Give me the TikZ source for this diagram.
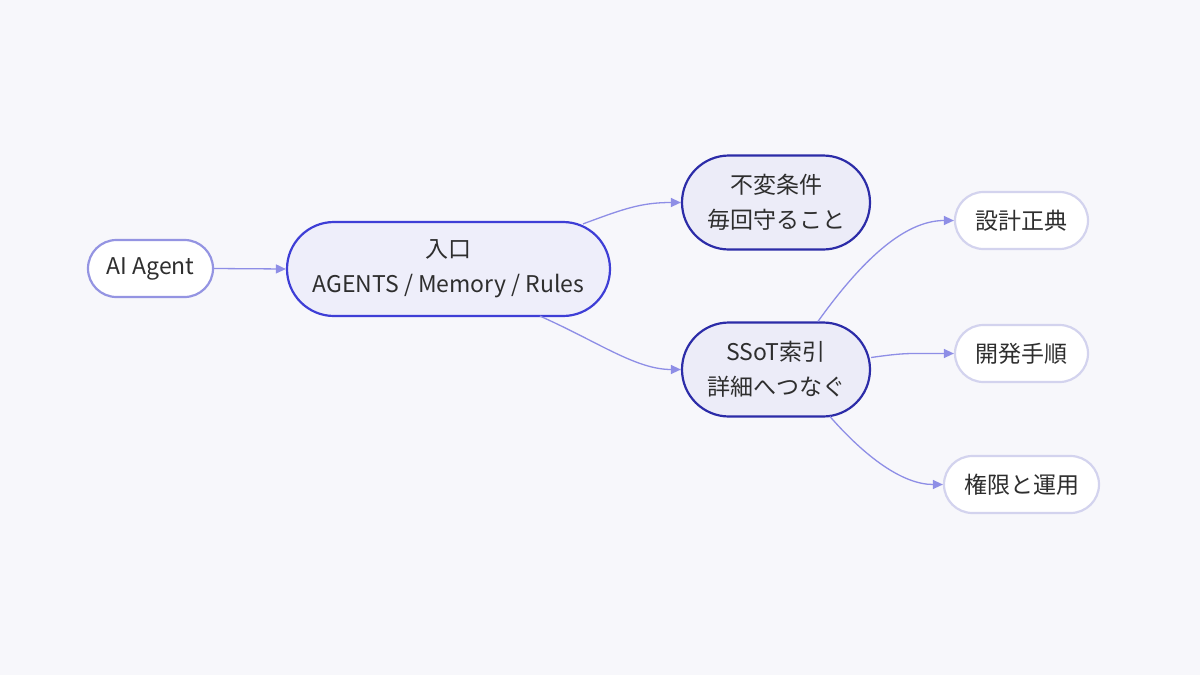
\documentclass[tikz,border=0pt]{standalone}
\usepackage{fontspec}
\setmainfont{Noto Sans CJK JP}
\usetikzlibrary{arrows.meta,calc}
\definecolor{bg}{HTML}{F7F7FB}
\definecolor{txt}{HTML}{2E2E2E}
\definecolor{edgec}{HTML}{8E8EE6}
\definecolor{agentb}{HTML}{9494E2}
\definecolor{entryb}{HTML}{3E3ED6}
\definecolor{entryf}{HTML}{EEEEFA}
\definecolor{midb}{HTML}{2C2CA8}
\definecolor{midf}{HTML}{ECECF8}
\definecolor{leafb}{HTML}{D3D3EE}
\tikzset{
  pill/.style={draw, line width=2.2pt, rounded corners=#1, align=center, text=txt,
    font=\fontsize{23}{35}\selectfont, inner sep=0pt},
  agentbox/.style={pill=28.5pt, draw=agentb, fill=white, minimum width=125pt, minimum height=57pt},
  entrybox/.style={pill=47pt, draw=entryb, fill=entryf, minimum width=323pt, minimum height=94pt},
  midbox/.style={pill=47pt, draw=midb, fill=midf, minimum width=188pt, minimum height=94pt},
  leafbox/.style={pill=28.5pt, draw=leafb, fill=white, minimum height=57pt},
  conn/.style={draw=edgec, line width=1.3pt, -{Triangle[length=10pt,width=9pt]}},
}
\begin{document}
\begin{tikzpicture}[x=1pt,y=-1pt]
\fill[bg] (0,0) rectangle (1200,675);
\useasboundingbox (0,0) rectangle (1200,675);

\node[agentbox] (agent) at (150.5,268.5) {AI Agent};
\node[entrybox] (entry) at (448.5,269) {入口\\AGENTS / Memory / Rules};
\node[midbox] (inv) at (776,202.5) {不変条件\\毎回守ること};
\node[midbox] (ssot) at (776,369.5) {SSoT索引\\詳細へつなぐ};
\node[leafbox, minimum width=133pt] (design) at (1021.5,220.5) {設計正典};
\node[leafbox, minimum width=133pt] (dev) at (1021.5,353.5) {開発手順};
\node[leafbox, minimum width=155pt] (perm) at (1021.5,484.5) {権限と運用};

\draw[conn] (agent.east) -- (entry.west);
\draw[conn] ($(entry.north)+(134.5,3)$) .. controls ($(entry.north)+(175,-12)$) and ($(inv.west)+(-40,0)$) .. (inv.west);
\draw[conn] ($(entry.south)+(91.5,-1)$) .. controls ($(entry.south)+(150,25)$) and ($(ssot.west)+(-45,0)$) .. (ssot.west);
\draw[conn] ($(ssot.north)+(42,0)$) .. controls ($(ssot.north)+(85,-60)$) and ($(design.west)+(-50,0)$) .. (design.west);
\draw[conn] ($(ssot.east)+(0,-12)$) .. controls ($(ssot.east)+(35,-17)$) and ($(dev.west)+(-45,0)$) .. (dev.west);
\draw[conn] ($(ssot.south)+(54,-1)$) .. controls ($(ssot.south)+(90,40)$) and ($(perm.west)+(-40,0)$) .. (perm.west);
\end{tikzpicture}
\end{document}
